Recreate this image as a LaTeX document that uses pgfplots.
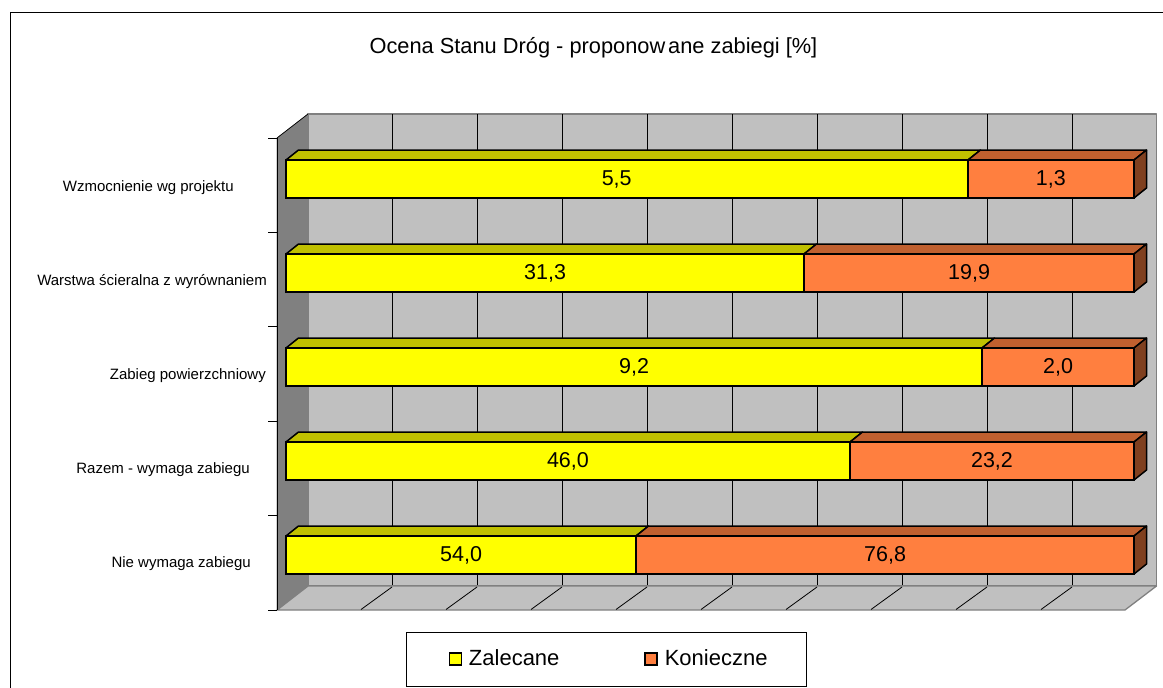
\documentclass[border=0pt]{standalone}
\usepackage{fontspec}
\setmainfont{Liberation Sans}
\usepackage{pgfplots}
\usepackage{pgfplotstable}
\pgfplotsset{compat=1.18}
\definecolor{wall}{HTML}{C0C0C0}
\definecolor{wallside}{HTML}{808080}
\definecolor{zal}{HTML}{FFFF00}
\definecolor{zaltop}{HTML}{C0C000}
\definecolor{kon}{HTML}{FF7F3F}
\definecolor{kontop}{HTML}{C0602F}
\definecolor{konside}{HTML}{80401F}
\newcommand\fbig{\fontsize{21.5}{24}\selectfont}
\newcommand\ftitle{\fontsize{21.8}{24}\selectfont}
\newcommand\flegend{\fontsize{22}{24}\selectfont}
\newcommand\fsmall{\fontsize{15}{18}\selectfont}
% shares of each bar in percent of its full length
\pgfplotstableread{
c z k
0 41.3 58.7
1 66.5 33.5
2 82.1 17.9
3 61.1 38.9
4 80.4 19.6
}\barsdata
% value labels: position along the bar, category, printed value
\pgfplotstableread{
x y lab
20.65 0 54,0
33.25 1 46,0
41.05 2 9,2
30.55 3 31,3
39.00 4 5,5
70.65 0 76,8
83.25 1 23,2
91.05 2 2,0
80.55 3 19,9
90.20 4 1,3
}\labelsdata
\begin{document}
\begin{tikzpicture}[x=1pt,y=1pt]
\path[use as bounding box] (0,0) rectangle (1163,688);
% ---------- decoration in picture pixels
\begin{axis}[at={(0pt,0pt)},anchor=south west,scale only axis,width=1163pt,height=688pt,
  xmin=0,xmax=1163,ymin=0,ymax=688,y dir=reverse,hide axis,clip=false]
\addplot[draw=black,line width=1pt] coordinates {(10,688)(10,12)(1163,12)};
% back wall, left wall, floor
\addplot[fill=wall,draw=wallside,line width=1.3pt] coordinates {(308,114)(1156.5,114)(1156.5,586)(308,586)} --cycle;
\addplot[fill=wallside,draw=wallside,line width=.6pt] coordinates {(277,138)(308,114)(308,586)(277,610)} --cycle;
\addplot[fill=wall,draw=wallside,line width=1.3pt] coordinates {(277,610)(308,586)(1156.5,586)(1125,610)} --cycle;
% grid on the wall and on the floor
\pgfplotsinvokeforeach{392,477,562,647,732,817,902,987,1072}{
  \addplot[draw=black,line width=.8pt] coordinates {(#1,114)(#1,585)};
  \addplot[draw=black,line width=.8pt] coordinates {(#1,587)(#1-31,609.5)};
}
% the axis and its ticks
\addplot[draw=black,line width=.9pt] coordinates {(277,138)(277,610)};
\addplot[draw=black,line width=.7pt] coordinates {(277,138)(308,114)};
\pgfplotsinvokeforeach{138,232.4,326.8,421.2,515.6,610}{
  \addplot[draw=black,line width=.9pt] coordinates {(268,#1)(277,#1)};
}
% depth faces of the bars
\pgfplotsset{every axis plot/.append style={draw=black,line width=1.5pt,line join=round}}
\addplot[fill=zaltop] coordinates {(286,160)(298.5,150)(980.5,150)(968,160)} --cycle;
\addplot[fill=kontop] coordinates {(968,160)(980.5,150)(1146.5,150)(1134,160)} --cycle;
\addplot[fill=konside] coordinates {(1134,160)(1146.5,150)(1146.5,188)(1134,198)} --cycle;
\addplot[fill=zaltop] coordinates {(286,254)(298.5,244)(816.5,244)(804,254)} --cycle;
\addplot[fill=kontop] coordinates {(804,254)(816.5,244)(1146.5,244)(1134,254)} --cycle;
\addplot[fill=konside] coordinates {(1134,254)(1146.5,244)(1146.5,282)(1134,292)} --cycle;
\addplot[fill=zaltop] coordinates {(286,348)(298.5,338)(994.5,338)(982,348)} --cycle;
\addplot[fill=kontop] coordinates {(982,348)(994.5,338)(1146.5,338)(1134,348)} --cycle;
\addplot[fill=konside] coordinates {(1134,348)(1146.5,338)(1146.5,376)(1134,386)} --cycle;
\addplot[fill=zaltop] coordinates {(286,442)(298.5,432)(862.5,432)(850,442)} --cycle;
\addplot[fill=kontop] coordinates {(850,442)(862.5,432)(1146.5,432)(1134,442)} --cycle;
\addplot[fill=konside] coordinates {(1134,442)(1146.5,432)(1146.5,470)(1134,480)} --cycle;
\addplot[fill=zaltop] coordinates {(286,536)(298.5,526)(648.5,526)(636,536)} --cycle;
\addplot[fill=kontop] coordinates {(636,536)(648.5,526)(1146.5,526)(1134,536)} --cycle;
\addplot[fill=konside] coordinates {(1134,536)(1146.5,526)(1146.5,564)(1134,574)} --cycle;
% title and legend frame
\node[font=\ftitle,anchor=center,inner sep=0pt] at (axis cs:593.5,47.5) {Ocena Stanu Dróg - proponow\kern3pt ane zabiegi [\%]};
\draw[black,line width=.9pt,fill=white] (axis cs:406,632) rectangle (axis cs:806,686);
\end{axis}
% ---------- bars: 0..100 % along the front edge
\begin{axis}[at={(286pt,78pt)},anchor=south west,scale only axis,width=848pt,height=472pt,
  xmin=0,xmax=100,ymin=-0.585,ymax=4.436,clip=false,
  xbar stacked,bar width=38pt,
  axis x line=none,axis y line=left,y axis line style={draw=none},
  xtick=\empty,ytick={0,1,2,3,4},major tick length=0pt,
  yticklabels={Nie wymaga zabiegu\kern16pt,Razem - wymaga zabiegu\kern17pt,Zabieg powierzchniowy\kern1pt,Warstwa ścieralna z wyrównaniem,Wzmocnienie wg projektu\kern33pt},
  yticklabel style={font=\fsmall,anchor=east,inner sep=0pt,xshift=-19pt,yshift=-8.5pt},
  legend columns=2,
  legend style={at={(0.381,-0.104)},anchor=center,draw=none,fill=none,font=\flegend,inner sep=0pt,
    /tikz/every even column/.style={column sep=83pt}},
  legend cell align=left,
  legend image code/.code={\draw[#1,line width=1.3pt] (0pt,-6pt) rectangle (12pt,6pt);}]
\addplot[fill=zal,draw=black,line width=1.5pt] table[x=z,y=c]{\barsdata};
\addlegendentry{\kern5pt\raisebox{1.5pt}{Zalecane}}
\addplot[fill=kon,draw=black,line width=1.5pt] table[x=k,y=c]{\barsdata};
\addlegendentry{\kern5pt\raisebox{1.5pt}{Konieczne}}
\end{axis}
% ---------- printed values
\begin{axis}[at={(286pt,78pt)},anchor=south west,scale only axis,width=848pt,height=472pt,
  xmin=0,xmax=100,ymin=-0.585,ymax=4.436,clip=false,hide axis]
\addplot[only marks,mark=none,point meta=explicit symbolic,
  nodes near coords,
  every node near coord/.append style={font=\fbig,anchor=center,inner sep=0pt,yshift=0pt}]
  table[x=x,y=y,meta=lab]{\labelsdata};
\end{axis}
\end{tikzpicture}
\end{document}
